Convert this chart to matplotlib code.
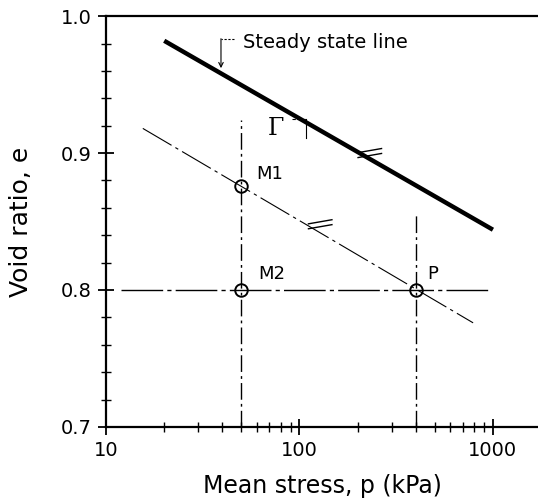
import numpy as np
import matplotlib
matplotlib.use("Agg")
import matplotlib.pyplot as plt

# steady state line (thick) and the line through M1 and P
ssl_p = [20, 1000]
ssl_e = [0.982, 0.844]
ref_p = [15.5, 790]
ref_e = [0.918, 0.776]

# state points
pt_names = ["M1", "M2", "P"]
pt_p = [50, 50, 400]
pt_e = [0.876, 0.800, 0.800]
lbl_p = [60, 61, 455]
lbl_e = [0.885, 0.812, 0.812]

# construction lines
vert_p = [50, 400]
vert_top = [0.924, 0.857]
horiz_p = [12, 950]
horiz_e = 0.80

# break marks "=" on the two lines
brk_p = [231, 128]
brk_e = [0.900, 0.848]

plt.rcParams['font.family'] = ['DejaVu Sans']

fig = plt.figure(figsize=(5.38, 5.04), dpi=100)
ax = fig.add_axes([0.197, 0.153, 0.803, 0.815])

ax.plot(ssl_p, ssl_e, color='black', lw=3.2, solid_capstyle='butt')
ax.plot(ref_p, ref_e, color='black', lw=0.8, linestyle=(0, (30, 4, 3, 4)))

for p, top in zip(vert_p, vert_top):
    ax.plot([p, p], [0.70, top], color='black', lw=1.0, linestyle=(0, (12, 3, 2, 3)))
ax.plot(horiz_p, [horiz_e, horiz_e], color='black', lw=1.0, linestyle=(0, (30, 3, 3, 3)))

ax.plot(pt_p, pt_e, linestyle='none', marker='o', markersize=9,
        markerfacecolor='none', markeredgecolor='black', markeredgewidth=1.4)
for name, x, y in zip(pt_names, lbl_p, lbl_e):
    ax.text(x, y, name, fontsize=13, va='center', ha='left')

# break marks
for bp, be in zip(brk_p, brk_e):
    for off in (-0.0018, 0.0018):
        ax.plot([bp / 1.15, bp * 1.15], [be + off - 0.0015, be + off + 0.0015],
                color='black', lw=1.0)

# Gamma bracket
ax.text(76, 0.918, 'Γ', fontsize=17, va='center', ha='center',
        family='DejaVu Serif')
ax.plot([92, 108], [0.925, 0.925], color='black', lw=0.8, linestyle=(0, (3, 1.5)))
ax.plot([108, 108], [0.925, 0.911], color='black', lw=0.8)

# steady state line label with leader
ax.text(51, 0.9805, 'Steady state line', fontsize=14, va='center', ha='left')
ax.plot([46, 39.3], [0.983, 0.983], color='black', lw=0.8, linestyle=(0, (2, 1.5)))
ax.annotate('', xy=(39.3, 0.962), xytext=(39.3, 0.9835),
            arrowprops=dict(arrowstyle='->', lw=0.8, color='black',
                            shrinkA=0, shrinkB=0, mutation_scale=8))

ax.set_xscale('log')
ax.set_xlim(10, 1710)
ax.set_ylim(0.70, 1.00)
ax.set_xticks([10, 100, 1000])
ax.set_xticklabels(['10', '100', '1000'])
ax.set_yticks([0.7, 0.8, 0.9, 1.0])
ax.set_yticklabels(['0.7', '0.8', '0.9', '1.0'])
ax.set_yticks(np.arange(0.70, 1.001, 0.02), minor=True)
ax.xaxis.set_minor_locator(matplotlib.ticker.LogLocator(base=10, subs=np.arange(2, 10)))
ax.xaxis.set_minor_formatter(matplotlib.ticker.NullFormatter())

ax.tick_params(which='major', direction='inout', length=12, width=1.3, labelsize=14, pad=4)
ax.tick_params(which='minor', direction='inout', length=7, width=1.0)

ax.spines['right'].set_visible(False)
for s in ('left', 'bottom', 'top'):
    ax.spines[s].set_linewidth(1.6)

ax.set_xlabel('Mean stress, p (kPa)', fontsize=17, labelpad=10)
ax.set_ylabel('Void ratio, e', fontsize=18, labelpad=20)

fig.savefig('out.png', dpi=100)
